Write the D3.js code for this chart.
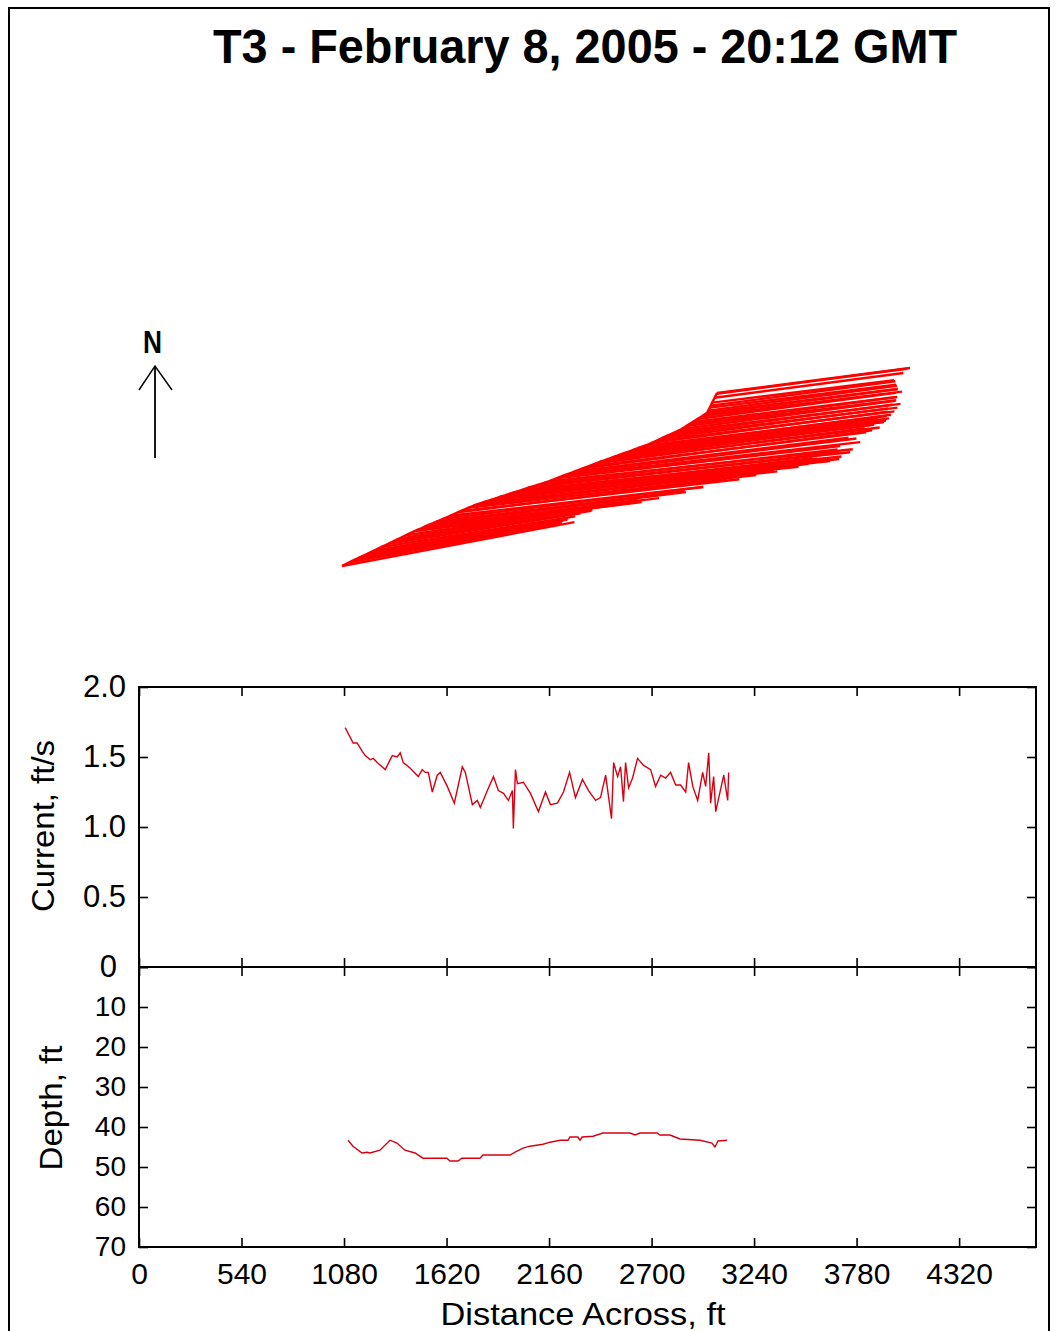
<!DOCTYPE html>
<html><head><meta charset="utf-8">
<script src="https://cdn.jsdelivr.net/npm/d3@7"></script>
<style>body{margin:0;background:#fff}svg{display:block}</style>
</head><body>
<svg id="c" width="1057" height="1331"></svg>
<script>
const titleText = "T3 - February 8, 2005 - 20:12 GMT";
const xTicks = [0,540,1080,1620,2160,2700,3240,3780,4320];
const currentTicks = [0,0.5,1.0,1.5,2.0];
const currentTickLabels = ["0","0.5","1.0","1.5","2.0"];
const depthTicks = [0,10,20,30,40,50,60,70];
const depthTickLabels = ["","10","20","30","40","50","60","70"];

// stations: distance across (ft), depth-averaged current (ft/s)
const stationDist = [1086,1128,1149,1176,1192,1218,1234,1255,1297,1334,
1360,1376,1392,1429,1471,1492,1508,1524,1545,1571,
1587,1624,1661,1703,1719,1756,1782,1798,1835,1867,
1893,1920,1946,1967,1972,1983,1993,2025,2062,2104,
2141,2167,2204,2236,2268,2299,2336,2368,2405,2431,
2458,2489,2500,2521,2537,2552,2563,2579,2600,2626,
2658,2695,2721,2748,2774,2800,2827,2853,2880,2895,
2917,2943,2969,2985,3001,3011,3027,3038,3054,3080,
3101,3106];
const currentSpeed = [1.71,1.60,1.60,1.54,1.51,1.48,1.49,1.46,1.41,1.51,
1.50,1.53,1.46,1.42,1.36,1.41,1.39,1.39,1.25,1.37,
1.39,1.29,1.17,1.43,1.39,1.16,1.19,1.14,1.26,1.36,
1.26,1.24,1.19,1.26,0.99,1.41,1.31,1.32,1.24,1.11,
1.25,1.16,1.17,1.25,1.39,1.21,1.34,1.26,1.19,1.21,
1.37,1.06,1.46,1.36,1.43,1.18,1.46,1.28,1.35,1.49,
1.44,1.41,1.29,1.37,1.35,1.39,1.30,1.30,1.25,1.46,
1.29,1.19,1.39,1.29,1.53,1.17,1.36,1.11,1.21,1.37,
1.19,1.39];
// boat track (ft east / ft north of first station)
const trackEast = [0,39,59,84,99,124,139,158,198,232,
256,271,286,321,360,380,396,411,430,455,
470,506,541,581,596,631,656,671,708,740,
765,792,818,839,843,854,864,896,932,974,
1010,1036,1072,1103,1134,1164,1200,1231,1267,1292,
1319,1349,1360,1380,1396,1410,1421,1437,1457,1482,
1514,1549,1574,1599,1624,1648,1674,1698,1722,1735,
1754,1777,1800,1814,1827,1831,1839,1844,1851,1863,
1873,1875];
const trackNorth = [0,19,29,41,48,59,67,76,95,111,
123,130,137,154,173,182,188,195,204,214,
221,236,251,269,275,291,301,307,319,329,
337,346,354,361,362,366,369,379,391,404,
415,424,438,450,461,473,487,498,512,521,
531,542,546,553,559,564,568,573,581,590,
601,616,627,639,650,661,673,685,700,708,
720,735,749,758,768,777,792,802,817,841,
861,865];
// plan-view velocity vectors: magnitude (ft/s) and direction (deg clockwise from north)
const planSpeed = [1.69,1.54,1.50,1.47,1.46,1.43,1.43,1.41,1.40,1.39,
1.44,1.41,1.49,1.51,1.57,1.61,1.56,1.69,1.73,1.82,
1.79,1.87,1.82,1.93,2.00,2.07,1.97,2.14,2.11,2.29,
2.18,2.27,2.33,2.21,2.36,2.27,2.14,2.30,2.23,2.25,
2.11,2.18,2.04,2.14,2.07,1.97,2.09,2.00,1.94,2.01,
1.91,1.96,1.87,1.93,1.89,1.82,1.87,1.79,1.84,1.82,
1.74,1.70,1.71,1.63,1.66,1.59,1.61,1.54,1.51,1.50,
1.46,1.43,1.44,1.39,1.37,1.36,1.34,1.33,1.31,1.36,
1.37,1.39];
const flowDir = [79.3,79.5,79.5,80,80,80,80.5,80.5,81,81,
81,81.5,81,81.5,82.5,83,82.5,83,82.5,83,
83,83,83.5,83,83.5,83.5,83,83.5,84,83.5,
84,83.5,84,83.5,84,84,83.5,84,83.5,84,
83.5,84,83.5,83.5,83,83,82.5,83,82.5,83,
82.5,82.5,83,82.5,83,82.5,83,82.5,83,82.5,
83,82.5,83,82.5,83,82.5,83,82.5,83,82.5,
83,82.5,83,82.5,83,82.5,83,82.5,83,82.5,
82.5,82.6];
// bottom depth profile
const depthDist = [1101,1127,1175,1201,1217,1269,1322,1359,1401,1454,1496,1622,1638,1680,1701,1796,1812,1954,1981,2023,2060,2128,2165,2218,2260,2270,2312,2323,2334,2392,2444,2586,2613,2639,2729,2744,2797,2850,2955,3018,3034,3050,3097];
const depthVal = [43.3,44.8,46.5,46.3,46.5,45.8,43.3,44.0,45.8,46.5,47.8,47.8,48.5,48.5,47.8,47.8,47.0,47.0,46.3,45.3,44.8,44.3,43.8,43.3,43.3,42.5,42.5,43.3,42.5,42.3,41.5,41.5,42.0,41.5,41.5,42.0,42.0,43.0,43.3,44.0,45.0,43.5,43.3];

const vectorFtPerSpeed = 700;
const RED = "#ff0000", LINE_RED = "#d80010";
const svg = d3.select("#c");
const FONT = "'Liberation Sans', Arial, sans-serif";

// frame
svg.append("rect").attr("x",9).attr("y",8).attr("width",1040).attr("height",1340)
  .attr("fill","#fff").attr("stroke","#000").attr("stroke-width",2);

// title
svg.append("text").attr("x",213).attr("y",63).text(titleText)
  .attr("font-family",FONT).attr("font-weight","bold").attr("font-size",48)
  .attr("textLength",744).attr("lengthAdjust","spacingAndGlyphs").attr("fill","#000");

// north arrow
svg.append("text").attr("x",143).attr("y",353).text("N")
  .attr("font-family",FONT).attr("font-weight","bold").attr("font-size",32)
  .attr("textLength",19).attr("lengthAdjust","spacingAndGlyphs");
svg.append("line").attr("x1",155).attr("x2",155).attr("y1",458).attr("y2",366)
  .attr("stroke","#000").attr("stroke-width",1.8);
svg.append("polyline").attr("points","139,390 155,366 172,390")
  .attr("fill","none").attr("stroke","#000").attr("stroke-width",1.4);

// plan view vectors
const xPlan = d3.scaleLinear().domain([0,1000]).range([342,542]);
const yPlan = d3.scaleLinear().domain([0,1000]).range([566,366]);
const vecs = trackEast.map((e,i)=>{
  const L = planSpeed[i]*vectorFtPerSpeed, a = flowDir[i]*Math.PI/180;
  return {e:e, n:trackNorth[i], e2:e+L*Math.sin(a), n2:trackNorth[i]+L*Math.cos(a)};
});
svg.append("g").selectAll("line").data(vecs).join("line")
  .attr("x1",d=>xPlan(d.e)).attr("y1",d=>yPlan(d.n))
  .attr("x2",d=>xPlan(d.e2)).attr("y2",d=>yPlan(d.n2))
  .attr("stroke",RED).attr("stroke-width",2.4);
svg.append("path").datum(vecs)
  .attr("d",d3.line().x(d=>xPlan(d.e)).y(d=>yPlan(d.n)))
  .attr("fill","none").attr("stroke",RED).attr("stroke-width",2.5);

// scales
const L0=139, R0=1036;
const x = d3.scaleLinear().domain([0,4725]).range([L0,R0]);
const yCur = d3.scaleLinear().domain([0,2]).range([967,687]);
const yDep = d3.scaleLinear().domain([0,70]).range([967,1247]);

function styleAxis(g, fs){
  g.select(".domain").remove();
  g.selectAll(".tick line").attr("stroke","#000").attr("stroke-width",1.6);
  g.selectAll(".tick text").attr("font-family",FONT).attr("font-size",fs).attr("fill","#000");
}
// current panel
svg.append("g").attr("transform",`translate(${L0},0)`)
  .call(d3.axisLeft(yCur).tickValues(currentTicks).tickFormat((d,i)=>currentTickLabels[i]).tickSize(-9).tickPadding(13))
  .call(g=>styleAxis(g,31))
  .call(g=>g.selectAll(".tick text").filter(d=>d===0).attr("dx",-9));
svg.append("g").attr("transform",`translate(${R0},0)`)
  .call(d3.axisRight(yCur).tickValues(currentTicks).tickFormat("").tickSize(-9)).call(g=>styleAxis(g,31));
svg.append("g").attr("transform",`translate(0,687)`)
  .call(d3.axisTop(x).tickValues(xTicks).tickFormat("").tickSize(-9)).call(g=>styleAxis(g,30));
svg.append("g").attr("transform",`translate(0,967)`)
  .call(d3.axisBottom(x).tickValues(xTicks).tickFormat("").tickSize(-9)).call(g=>styleAxis(g,30));
// depth panel
svg.append("g").attr("transform",`translate(${L0},0)`)
  .call(d3.axisLeft(yDep).tickValues(depthTicks).tickFormat((d,i)=>depthTickLabels[i]).tickSize(-9).tickPadding(13))
  .call(g=>styleAxis(g,28));
svg.append("g").attr("transform",`translate(${R0},0)`)
  .call(d3.axisRight(yDep).tickValues(depthTicks).tickFormat("").tickSize(-9)).call(g=>styleAxis(g,28));
svg.append("g").attr("transform",`translate(0,967)`)
  .call(d3.axisTop(x).tickValues(xTicks).tickFormat("").tickSize(-9)).call(g=>styleAxis(g,30));
svg.append("g").attr("transform",`translate(0,1247)`)
  .call(d3.axisBottom(x).tickValues(xTicks).tickFormat(d3.format("d")).tickSize(-9).tickPadding(16))
  .call(g=>styleAxis(g,30));

// boxes
svg.append("rect").attr("x",L0).attr("y",687).attr("width",R0-L0).attr("height",280)
  .attr("fill","none").attr("stroke","#000").attr("stroke-width",2);
svg.append("rect").attr("x",L0).attr("y",967).attr("width",R0-L0).attr("height",280)
  .attr("fill","none").attr("stroke","#000").attr("stroke-width",2);

// data lines
svg.append("path").datum(stationDist.map((d,i)=>[d,currentSpeed[i]]))
  .attr("d",d3.line().x(d=>x(d[0])).y(d=>yCur(d[1])))
  .attr("fill","none").attr("stroke",LINE_RED).attr("stroke-width",1.4);
svg.append("path").datum(depthDist.map((d,i)=>[d,depthVal[i]]))
  .attr("d",d3.line().x(d=>x(d[0])).y(d=>yDep(d[1])))
  .attr("fill","none").attr("stroke",LINE_RED).attr("stroke-width",1.4);

// axis titles
svg.append("text").attr("transform","translate(54,826) rotate(-90)").attr("text-anchor","middle")
  .text("Current, ft/s").attr("font-family",FONT).attr("font-size",32)
  .attr("textLength",172).attr("lengthAdjust","spacingAndGlyphs");
svg.append("text").attr("transform","translate(62,1108) rotate(-90)").attr("text-anchor","middle")
  .text("Depth, ft").attr("font-family",FONT).attr("font-size",32)
  .attr("textLength",125).attr("lengthAdjust","spacingAndGlyphs");
svg.append("text").attr("x",583).attr("y",1325).attr("text-anchor","middle")
  .text("Distance Across, ft").attr("font-family",FONT).attr("font-size",32)
  .attr("textLength",285).attr("lengthAdjust","spacingAndGlyphs");
</script>
</body></html>
